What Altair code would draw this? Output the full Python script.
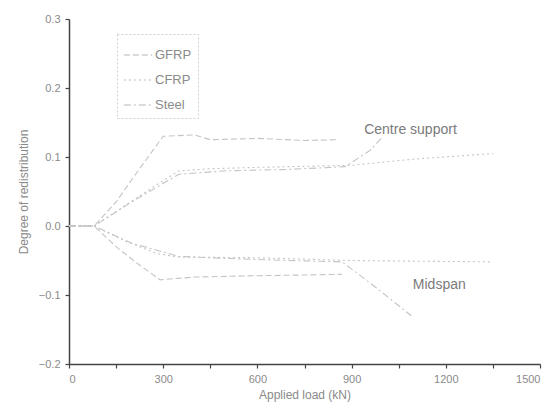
import altair as alt
import pandas as pd

# Applied load (kN) and degree of moment redistribution for each reinforcement type
gfrp_centre_load = [0, 80, 150, 220, 300, 400, 450, 600, 750, 850]
gfrp_centre_val = [0, 0, 0.035, 0.08, 0.13, 0.132, 0.125, 0.127, 0.124, 0.125]
gfrp_mid_load = [0, 80, 150, 220, 290, 400, 600, 750, 870]
gfrp_mid_val = [0, 0, -0.03, -0.055, -0.078, -0.074, -0.072, -0.071, -0.07]

cfrp_centre_load = [0, 80, 180, 280, 350, 450, 600, 900, 1100, 1350]
cfrp_centre_val = [0, 0, 0.03, 0.06, 0.08, 0.083, 0.085, 0.088, 0.097, 0.105]
cfrp_mid_load = [0, 80, 180, 280, 350, 600, 900, 1100, 1350]
cfrp_mid_val = [0, 0, -0.022, -0.04, -0.045, -0.046, -0.05, -0.051, -0.052]

steel_centre_load = [0, 80, 200, 350, 500, 700, 880, 960, 1000]
steel_centre_val = [0, 0, 0.035, 0.075, 0.08, 0.082, 0.086, 0.11, 0.13]
steel_mid_load = [0, 80, 200, 350, 500, 700, 870, 980, 1090]
steel_mid_val = [0, 0, -0.025, -0.044, -0.047, -0.05, -0.052, -0.09, -0.13]

materials = ["GFRP", "CFRP", "Steel"]

x_ticks = [0, 150, 300, 450, 600, 750, 900, 1050, 1200, 1350, 1500]
y_ticks = [-0.2, -0.15, -0.1, -0.05, 0.0, 0.05, 0.1, 0.15, 0.2, 0.25, 0.3]

rows = []
for mat, loc, loads, vals in [
    ("GFRP", "Centre", gfrp_centre_load, gfrp_centre_val),
    ("GFRP", "Mid", gfrp_mid_load, gfrp_mid_val),
    ("CFRP", "Centre", cfrp_centre_load, cfrp_centre_val),
    ("CFRP", "Mid", cfrp_mid_load, cfrp_mid_val),
    ("Steel", "Centre", steel_centre_load, steel_centre_val),
    ("Steel", "Mid", steel_mid_load, steel_mid_val),
]:
    for i, (x, y) in enumerate(zip(loads, vals)):
        rows.append({"material": mat, "loc": mat + loc, "load": x, "deg": y, "order": i})
df = pd.DataFrame(rows)

annot = pd.DataFrame({
    "load": [940, 1095],
    "deg": [0.139, -0.086],
    "text": ["Centre support", "Midspan"],
})

axis_grey = "#444444"
text_grey = "#8a8a8a"

x_scale = alt.Scale(domain=[0, 1500], nice=False)
y_scale = alt.Scale(domain=[-0.2, 0.3], nice=False)

lines = alt.Chart(df).mark_line(strokeWidth=1.1, color="#c4c4c4").encode(
    x=alt.X("load:Q", scale=x_scale,
            axis=alt.Axis(title="Applied load (kN)", values=x_ticks,
                          labelExpr="datum.value % 300 === 0 ? format(datum.value, 'd') : ''",
                          tickSize=4, titlePadding=5, labelPadding=5)),
    y=alt.Y("deg:Q", scale=y_scale,
            axis=alt.Axis(title="Degree of redistribution", values=y_ticks,
                          labelExpr="abs(round(datum.value * 100)) % 10 === 0 ? format(datum.value, '.1f') : ''",
                          tickSize=4, titlePadding=8, labelPadding=5)),
    strokeDash=alt.StrokeDash(
        "material:N",
        scale=alt.Scale(domain=materials, range=[[6, 3], [2, 3], [7, 3, 2, 3]]),
        legend=alt.Legend(title=None, orient="none", legendX=48, legendY=15,
                          symbolType="stroke", symbolSize=800, symbolStrokeColor="#b8b8b8",
                          symbolStrokeWidth=1.2, labelFontSize=13, labelColor=text_grey,
                          rowPadding=3, padding=6, labelOffset=2),
    ),
    detail="loc:N",
    order="order:Q",
)

labels = alt.Chart(annot).mark_text(align="left", baseline="middle", fontSize=14,
                                    color="#7a7a7a").encode(
    x=alt.X("load:Q", scale=x_scale),
    y=alt.Y("deg:Q", scale=y_scale),
    text="text:N",
)

chart = (
    alt.layer(lines, labels)
    .properties(width=471, height=345, padding={"left": 69, "top": 19, "right": 19, "bottom": 48},
                autosize=alt.AutoSizeParams(type="none"), background="white")
    .configure_view(stroke=None)
    .configure_axis(domainColor=axis_grey, domainWidth=1.5, tickColor=axis_grey, tickWidth=1.2,
                    labelColor=text_grey, labelFontSize=11, titleColor=text_grey,
                    titleFontSize=12, titleFontWeight="normal", grid=False, labelFont="Liberation Sans",
                    titleFont="Liberation Sans")
    .configure_legend(strokeColor="#cfcfcf", strokeDash=[2, 2], fillColor="white",
                      labelFont="Liberation Sans")
    .configure_text(font="Liberation Sans")
)

chart.save("out.html", embed_options={"renderer": "svg", "actions": False})
